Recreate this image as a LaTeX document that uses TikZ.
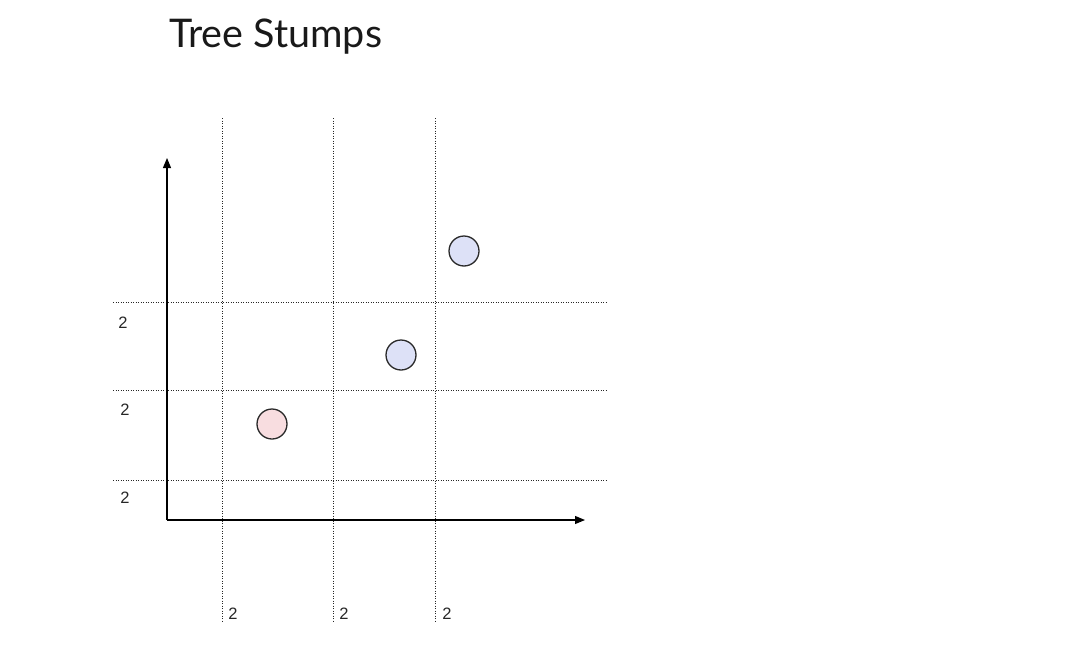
\documentclass[tikz,border=0pt]{standalone}
\usepackage{fontspec}
\setmainfont{Lato}
\newfontfamily\labfont{Liberation Sans}
\usetikzlibrary{arrows.meta}
\definecolor{pinkfill}{HTML}{F8DDE0}
\definecolor{bluefill}{HTML}{DDE1F7}
\definecolor{strokec}{HTML}{2A2A2A}
\tikzset{
  grid line/.style={line width=1pt, dash pattern=on 1.2pt off 1.3pt, black!85},
  axis line/.style={line width=1.1pt, black, -{Triangle[length=10pt,width=8pt]}},
  stump/.style={circle, draw=strokec, line width=1.3pt, minimum size=30pt, inner sep=0pt},
  lab/.style={font=\labfont\fontsize{16.5}{16.5}\selectfont, text=black!85, inner sep=0pt},
}
\begin{document}
\begin{tikzpicture}[x=1pt,y=-1pt]
\useasboundingbox (0,0) rectangle (1080,648);
\node[anchor=base west, inner sep=0pt, font=\fontsize{39.5}{39.5}\selectfont, text=black!90] (title) at (169,47) {Tree Stumps};
% vertical grid lines
\coordinate (v1t) at (222,118); \coordinate (v1b) at (222,622);
\coordinate (v2t) at (333,118); \coordinate (v2b) at (333,622);
\coordinate (v3t) at (435,118); \coordinate (v3b) at (435,622);
\draw[grid line] (v1t) -- (v1b);
\draw[grid line] (v2t) -- (v2b);
\draw[grid line] (v3t) -- (v3b);
% horizontal grid lines
\coordinate (h1l) at (113,302); \coordinate (h1r) at (607,302);
\coordinate (h2l) at (113,390); \coordinate (h2r) at (607,390);
\coordinate (h3l) at (113,480); \coordinate (h3r) at (607,480);
\draw[grid line] (h1l) -- (h1r);
\draw[grid line] (h2l) -- (h2r);
\draw[grid line] (h3l) -- (h3r);
% axes
\coordinate (origin) at (167,520);
\coordinate (ytop) at (167,158);
\coordinate (xend) at (585,520);
\draw[axis line] (origin) -- (ytop);
\draw[axis line] (origin) -- (xend);
% labels
\node[lab] (l1) at (123,323) {2};
\node[lab] (l2) at (125,410) {2};
\node[lab] (l3) at (125,498) {2};
\node[lab] (b1) at (233,614) {2};
\node[lab] (b2) at (344,614) {2};
\node[lab] (b3) at (447,614) {2};
% stumps
\node[stump, fill=pinkfill] (p1) at (272,424) {};
\node[stump, fill=bluefill] (q1) at (401,355) {};
\node[stump, fill=bluefill] (q2) at (464,251) {};
\end{tikzpicture}
\end{document}
